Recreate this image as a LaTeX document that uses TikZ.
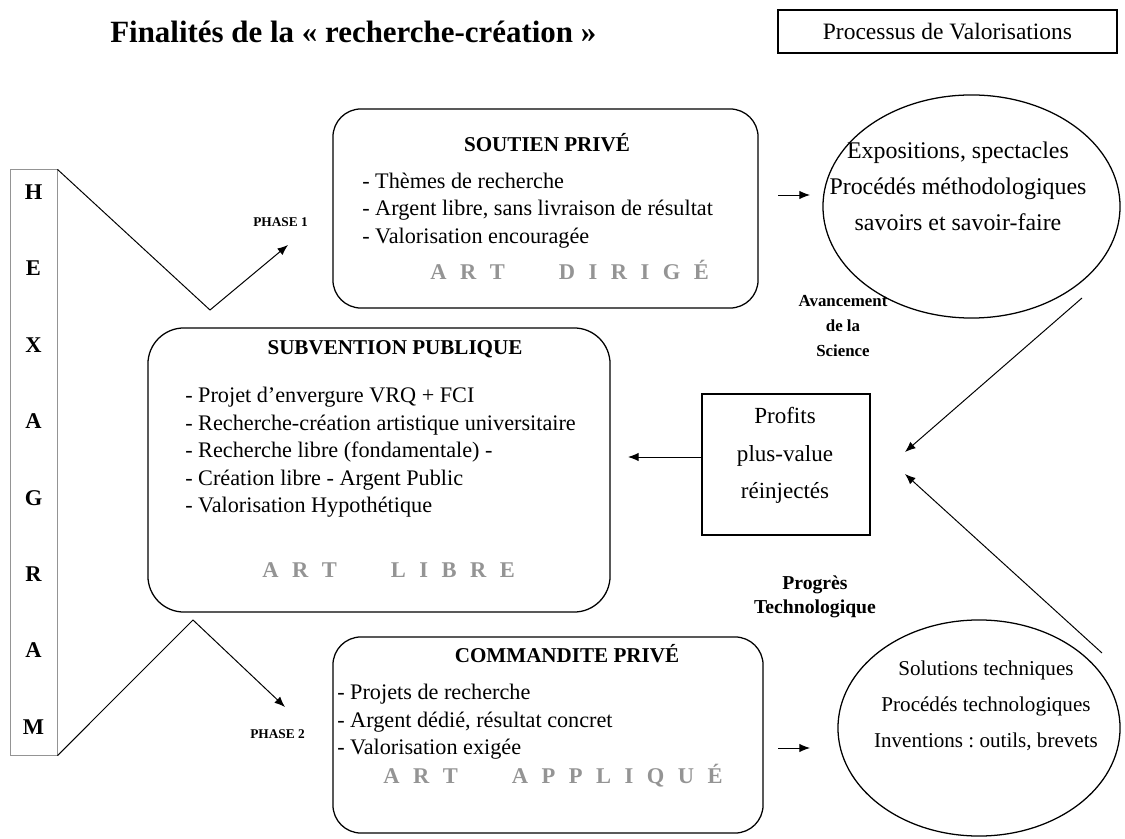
\documentclass[tikz,border=0pt]{standalone}
\usepackage{fontspec}
\setmainfont{Liberation Serif}
\usetikzlibrary{shapes,arrows,arrows.meta}
\definecolor{gris}{gray}{0.58}
\tikzstyle{rb} = [rectangle, rounded corners=0.7cm, draw=black, line width=0.9pt, inner sep=0pt]
\tikzstyle{sq} = [rectangle, draw=black, line width=0.9pt, inner sep=0pt]
\tikzstyle{el} = [ellipse, draw=black, line width=0.9pt, inner sep=0pt]
\tikzstyle{tt} = [inner sep=0pt, anchor=base, font=\fontsize{15}{18}\selectfont\bfseries]
\tikzstyle{li} = [inner sep=0pt, anchor=north west, align=left, font=\fontsize{15.8}{19.56}\selectfont]
\tikzstyle{art} = [inner sep=0pt, anchor=base west, text=gris, font=\fontsize{16}{19}\selectfont\bfseries]
\tikzstyle{ph} = [inner sep=0pt, anchor=base west, font=\fontsize{9.5}{11}\selectfont\bfseries]
\tikzstyle{fl} = [-{Latex[length=7.5pt,width=6pt]}, line width=0.7pt]
\newcommand{\lsp}{\hspace{0.6em}}
\newcommand{\wsp}{\hspace{2.4em}}
\frenchspacing

\begin{document}
\begin{tikzpicture}[x=0.025cm, y=-0.025cm]
\useasboundingbox (0,0) rectangle (1125,839);
\node[inner sep=0pt, anchor=base west, font=\fontsize{22}{26}\selectfont\bfseries] (0) at (110,43) {Finalités de la « recherche-création »};
\node[sq, line width=1.2pt, minimum width=8.475cm, minimum height=1.075cm, font=\fontsize{16.7}{20}\selectfont] (9) at (947.5,31.5) {Processus de Valorisations};

\node[sq, draw=gris, line width=0.7pt, minimum width=1.175cm, minimum height=14.625cm] (1) at (33.5,462.5) {};
\node[inner sep=0pt, anchor=north, align=center, font=\fontsize{16}{54.3}\selectfont\bfseries] (1a) at (33.5,184.6) {H\\E\\X\\A\\G\\R\\A\\M};

\node[rb, minimum width=10.625cm, minimum height=4.975cm] (3) at (545.5,208.5) {};
\node[tt] (3a) at (547,152) {SOUTIEN PRIVÉ};
\node[li] (3b) at (362,172.7) {- Thèmes de recherche\\- Argent libre, sans livraison de résultat\\- Valorisation encouragée};
\node[art] (3c) at (430,280) {A\lsp R\lsp T\wsp D\lsp I\lsp R\lsp I\lsp G\lsp É};

\node[rb, rounded corners=0.9cm, minimum width=11.55cm, minimum height=7.1cm] (4) at (379,470) {};
\node[tt] (4a) at (395,355) {SUBVENTION PUBLIQUE};
\node[li] (4b) at (185,386.8) {- Projet d’envergure VRQ + FCI\\- Recherche-création artistique universitaire\\- Recherche libre (fondamentale) -\\- Création libre - Argent Public\\- Valorisation Hypothétique};
\node[art] (4c) at (262,577) {A\lsp R\lsp T\wsp L\lsp I\lsp B\lsp R\lsp E};

\node[rb, minimum width=10.75cm, minimum height=4.9cm] (5) at (548,735) {};
\node[tt] (5a) at (567,662) {COMMANDITE PRIVÉ};
\node[li] (5b) at (337,683.8) {- Projets de recherche\\- Argent dédié, résultat concret\\- Valorisation exigée};
\node[art] (5c) at (383,783) {A\lsp R\lsp T\wsp A\lsp P\lsp P\lsp L\lsp I\lsp Q\lsp U\lsp É};

\node[el, minimum width=7.425cm, minimum height=5.575cm] (6) at (971.5,206.5) {};
\node[inner sep=0pt, anchor=north, align=center, font=\fontsize{17}{25.6}\selectfont] (6a) at (958,141.7) {Expositions, spectacles\\Procédés méthodologiques\\savoirs et savoir-faire};

\node[sq, minimum width=4.2cm, minimum height=3.525cm] (7) at (786,464.5) {};
\node[inner sep=0pt, anchor=north, align=center, font=\fontsize{16.4}{26.7}\selectfont] (7a) at (785,407.3) {Profits\\plus-value\\réinjectés};

\node[el, minimum width=7.05cm, minimum height=5.4cm] (8) at (979,728) {};
\node[inner sep=0pt, anchor=north, align=center, font=\fontsize{15}{25.6}\selectfont] (8a) at (986,660.6) {Solutions techniques\\Procédés technologiques\\Inventions : outils, brevets};

\node[inner sep=0pt, anchor=north, align=center, font=\fontsize{12}{17.8}\selectfont\bfseries] (10) at (843,295.4) {Avancement\\de la\\Science};
\node[inner sep=0pt, anchor=north, align=center, font=\fontsize{14}{17}\selectfont\bfseries] (11) at (815,575.4) {Progrès\\Technologique};

\node[ph] (12) at (253,227) {PHASE 1};
\node[ph] (13) at (250,738) {PHASE 2};

% fleches
\coordinate (v1) at (210,310);
\coordinate (f1) at (288,245);
\draw[fl] (1.north east) -- (v1) -- (f1);
\coordinate (v2) at (193,620);
\coordinate (f2) at (285,707);
\draw[fl] (1.south east) -- (v2) -- (f2);
\coordinate (a1) at (778,195);
\coordinate (a2) at (810,195);
\draw[fl] (a1) -- (a2);
\coordinate (a3) at (778,748);
\coordinate (a4) at (810,748);
\draw[fl] (a3) -- (a4);
\coordinate (a5) at (628,457);
\draw[fl] (a5 -| 7.west) -- (a5);
\coordinate (l1) at (1082,298);
\coordinate (t1) at (905,452);
\draw[fl] (l1) -- (t1);
\coordinate (l2) at (1102,653);
\coordinate (t2) at (905,474);
\draw[fl] (l2) -- (t2);
\end{tikzpicture}
\end{document}
